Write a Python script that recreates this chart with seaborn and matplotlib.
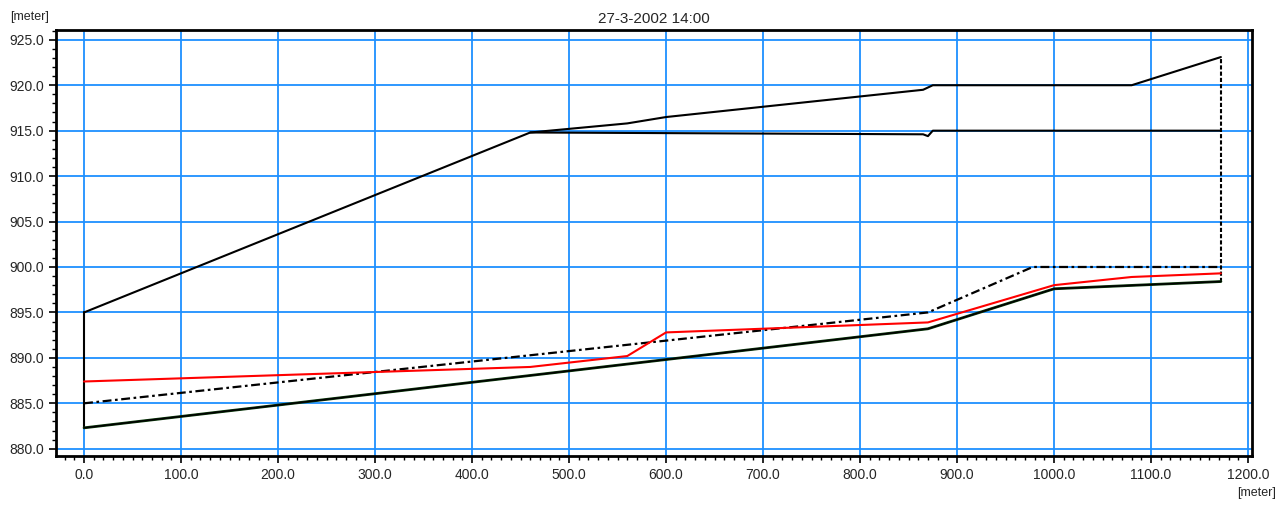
import matplotlib
matplotlib.use("Agg")
import matplotlib.pyplot as plt
import seaborn as sns
import pandas as pd
from matplotlib.ticker import MultipleLocator, FormatStrFormatter

# Longitudinal profile data (chainage in meter, levels in meter)
bank_x = [0, 460, 560, 600, 865, 875, 1080, 1172]
left_bank = [895.0, 914.8, 915.8, 916.5, 919.5, 920.0, 920.0, 923.1]

right_bank_x = [460, 865, 870, 875, 1172]
right_bank = [914.8, 914.6, 914.4, 915.0, 915.0]

bed_x = [0, 870, 1000, 1172]
bed = [882.3, 893.2, 897.6, 898.4]

crit_x = [0, 870, 978, 1172]
crit_level = [885.0, 895.0, 900.0, 900.0]

water_x = [0, 460, 560, 600, 870, 1000, 1080, 1172]
water = [887.4, 889.0, 890.2, 892.8, 893.9, 898.0, 898.9, 899.3]

start_wall_x = [0, 0]
start_wall = [882.3, 895.0]
end_wall_x = [1172, 1172]
end_wall = [898.4, 923.1]

title = "27-3-2002 14:00"

sns.set_theme(style="white")
plt.rcParams['font.family'] = ['Liberation Sans', 'DejaVu Sans']

fig = plt.figure(figsize=(12.86, 5.05), dpi=100)
ax = fig.add_axes([0.0435, 0.097, 0.930, 0.844])

kw = dict(ax=ax, sort=False, estimator=None, legend=False)
sns.lineplot(x=start_wall_x, y=start_wall, color='black', lw=1.5, **kw)
sns.lineplot(x=end_wall_x, y=end_wall, color='black', lw=1.5, linestyle=(0, (2, 1)), **kw)
sns.lineplot(x=bank_x, y=left_bank, color='black', lw=1.5, **kw)
sns.lineplot(x=right_bank_x, y=right_bank, color='black', lw=1.5, **kw)
sns.lineplot(x=bed_x, y=bed, color='#0b3a0b', lw=2.0, **kw)
sns.lineplot(x=bed_x, y=bed, color='black', lw=1.1, **kw)
sns.lineplot(x=crit_x, y=crit_level, color='black', lw=1.6, linestyle=(0, (4, 1.6, 1.2, 1.6)), **kw)
sns.lineplot(x=water_x, y=water, color='red', lw=1.5, **kw)

ax.set_xlim(-29, 1204)
ax.set_ylim(879.2, 926.1)
ax.xaxis.set_major_locator(MultipleLocator(100))
ax.xaxis.set_minor_locator(MultipleLocator(10))
ax.yaxis.set_major_locator(MultipleLocator(5))
ax.yaxis.set_minor_locator(MultipleLocator(1))
ax.xaxis.set_major_formatter(FormatStrFormatter('%.1f'))
ax.yaxis.set_major_formatter(FormatStrFormatter('%.1f'))
ax.grid(True, which='major', color='#1e90ff', lw=1.3)
ax.set_axisbelow(True)
ax.tick_params(which='major', direction='out', length=5, width=1.2, color='black',
               labelsize=10, bottom=True, left=True)
ax.tick_params(which='minor', direction='out', length=3, width=1.0, color='black',
               bottom=True, left=True)
for s in ax.spines.values():
    s.set_color('black')
    s.set_linewidth(2.0)
ax.set_xlabel('')
ax.set_ylabel('')

ax.set_title(title, fontsize=11, pad=5)
fig.text(0.008, 0.967, '[meter]', fontsize=9, ha='left', va='center')
fig.text(0.992, 0.012, '[meter]', fontsize=9, ha='right', va='bottom')

fig.savefig('out.png', dpi=100)
